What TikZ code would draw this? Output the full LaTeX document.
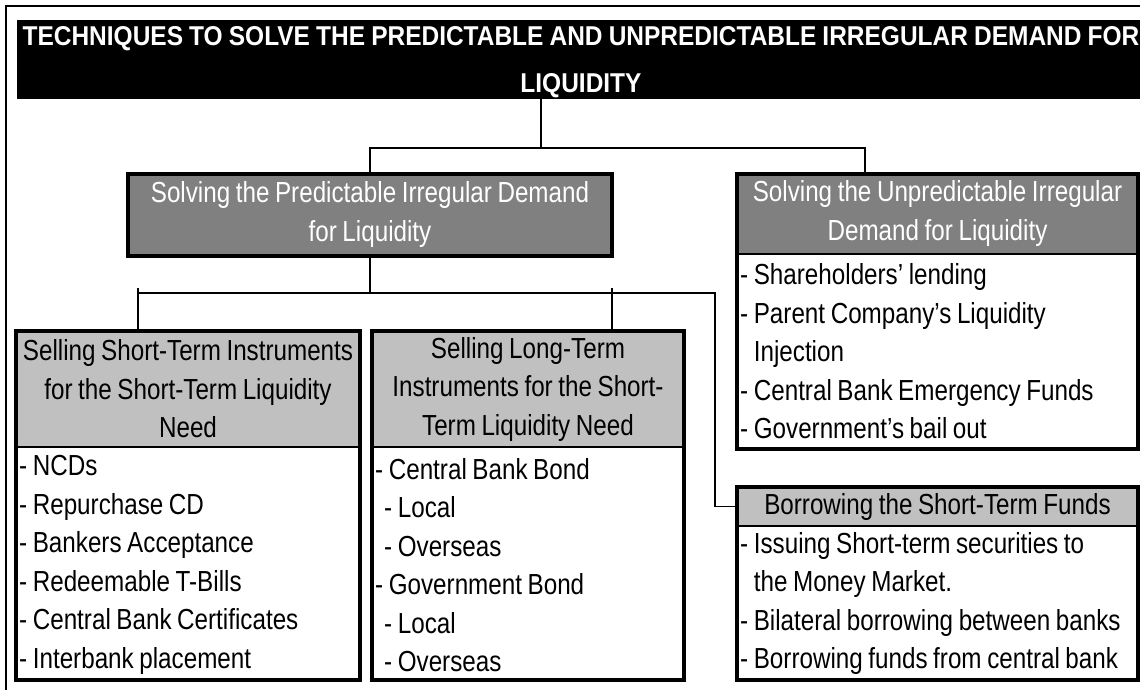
\documentclass[tikz,border=0pt]{standalone}
\usepackage{fontspec}
\setmainfont[FakeStretch=0.835,WordSpace=0.83]{Liberation Sans}
\newfontfamily\titlefont[FakeStretch=0.9,WordSpace=0.9]{Liberation Sans}
\usetikzlibrary{positioning}
\definecolor{headdark}{HTML}{808080}
\definecolor{headlight}{HTML}{C0C0C0}
\tikzset{
  titlebar/.style={fill=black,text=white,inner sep=0pt,align=center,text depth=-4pt,
    font=\titlefont\bfseries\fontsize{27.2}{47}\selectfont,minimum width=1128pt,minimum height=79pt},
  darkhead/.style={fill=headdark,text=white,inner sep=0pt,align=center,
    font=\fontsize{29}{39}\selectfont},
  lighthead/.style={fill=headlight,text=black,inner sep=0pt,align=center,
    font=\fontsize{29}{38.5}\selectfont},
  itemlist/.style={anchor=west,inner xsep=3pt,inner ysep=0pt,align=left,
    font=\fontsize{29}{38.5}\selectfont},
  boxframe/.style={draw=black,line width=3.5pt},
  sepline/.style={draw=black,line width=2pt},
  link/.style={draw=black,line width=1.4pt}
}
\begin{document}
\begin{tikzpicture}[x=1pt,y=-1pt,line join=miter]
\useasboundingbox (0,0) rectangle (1140,690);
\clip (0,0) rectangle (1140,690);
% outer frame
\draw[line width=2.5pt] (6,700) -- (6,6) -- (1150,6);
% title
\node[titlebar] (title) at (581,59.5)
  {TECHNIQUES TO SOLVE THE PREDICTABLE AND UNPREDICTABLE IRREGULAR DEMAND FOR\\LIQUIDITY};
% level 1
\node[darkhead,boxframe,minimum width=484pt,minimum height=82pt] (pred) at (370,215)
  {Solving the Predictable Irregular Demand\\for Liquidity};
\node[darkhead,minimum width=401pt,minimum height=80pt] (unpredhead) at (937.5,214)
  {Solving the Unpredictable Irregular\\Demand for Liquidity};
\coordinate (ubottom) at (0,449);
\node[itemlist] (unpredlist) at (737,351.5)
  {- Shareholders' lending\\
   - Parent Company's Liquidity\\
   \phantom{- }Injection\\
   - Central Bank Emergency Funds\\
   - Government's bail out};
% level 2
\coordinate (rbottom) at (0,680);
\node[lighthead,minimum width=344pt,minimum height=116pt] (shorthead) at (188,389)
  {Selling Short-Term Instruments\\for the Short-Term Liquidity\\Need};
\node[itemlist] (shortlist) at (16,565)
  {- NCDs\\
   - Repurchase CD\\
   - Bankers Acceptance\\
   - Redeemable T-Bills\\
   - Central Bank Certificates\\
   - Interbank placement};
\node[lighthead,minimum width=312pt,minimum height=116pt] (longhead) at (528,389)
  {Selling Long-Term\\Instruments for the Short-\\Term Liquidity Need};
\node[itemlist] (longlist) at (372,565)
  {- Central Bank Bond\\
   \hspace*{9pt}- Local\\
   \hspace*{9pt}- Overseas\\
   - Government Bond\\
   \hspace*{9pt}- Local\\
   \hspace*{9pt}- Overseas};
\node[lighthead,minimum width=401pt,minimum height=39pt] (borrowhead) at (937.5,506.5)
  {Borrowing the Short-Term Funds};
\node[itemlist] (borrowlist) at (737,603.5)
  {- Issuing Short-term securities to\\
   \phantom{- }the Money Market.\\
   - Bilateral borrowing between banks\\
   - Borrowing funds from central bank};
% frames
\draw[boxframe] (unpredhead.north west) rectangle (unpredhead.east |- ubottom);
\draw[sepline] (unpredhead.south west) -- (unpredhead.south east);
\foreach \h in {shorthead,longhead,borrowhead}{
  \draw[boxframe] (\h.north west) rectangle (\h.east |- rbottom);
  \draw[sepline] (\h.south west) -- (\h.south east);
}
% connectors
\coordinate (tsplit) at (541,148);
\coordinate (usplit) at (865,148);
\coordinate (sleft) at (138,293);
\coordinate (lmid) at (612,293);
\coordinate (sright) at (715,293);
\draw[link] (title.south -| tsplit) -- (tsplit);
\draw[link] (pred.north) |- (usplit) -- (usplit |- unpredhead.north);
\draw[link] (pred.south) -- (pred.south |- sleft);
\draw[link] (sleft) -- (sright) |- (borrowhead.west);
\draw[link] ([yshift=5pt]sleft) -- (sleft |- shorthead.north);
\draw[link] ([yshift=5pt]lmid) -- (lmid |- longhead.north);
\end{tikzpicture}
\end{document}
